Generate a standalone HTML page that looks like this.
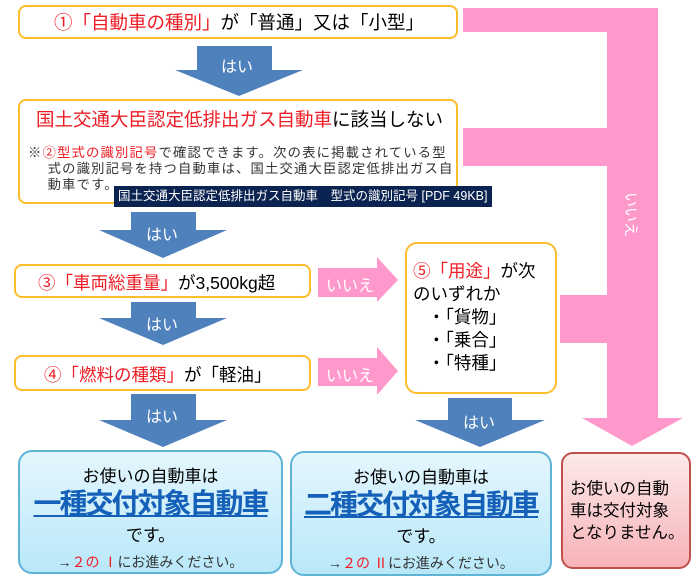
<!DOCTYPE html>
<html><head><meta charset="utf-8"><style>
body{margin:0;width:700px;height:580px;background:#fff;position:relative;overflow:hidden;font-family:"Liberation Sans","Noto Sans CJK JP",sans-serif;}
.b{position:absolute;box-sizing:border-box;border:2px solid #fbbd2a;border-radius:8px;background:#fff;}
.r{color:#ee1c25}
.t{position:absolute;white-space:nowrap}
svg{position:absolute;left:0;top:0}
.blue{position:absolute;box-sizing:border-box;border:2px solid #5fb3d6;border-radius:14px;background:linear-gradient(#e4f6fd,#b9e8f9);text-align:center}
.big{color:#1560b8;font-weight:bold;text-decoration:underline;font-size:28px;letter-spacing:-2px;line-height:34px}
</style></head><body>
<svg width="700" height="580">
<g fill="#ff99cc">
<polygon points="463,8 658,8 658,418 683,418 632,446 582,418 607,418 607,343 560,343 560,295 607,295 607,166 463,166 463,128 607,128 607,32 463,32"/>
<polygon points="318,268 377,268 377,257 398,280 377,302 377,297 318,297"/>
<polygon points="318,358 377,358 377,347 398,371 377,395 377,386 318,386"/>
</g>
<g fill="#4f81bd">
<polygon points="197,46 272,46 272,70 303,70 239,96 175,70 197,70"/>
<polygon points="131,212 196,212 196,230 227,230 163,258 99,230 131,230"/>
<polygon points="131,302 196,302 196,318 227,318 163,345 99,318 131,318"/>
<polygon points="131,394 196,394 196,420 227,420 163,447 99,420 131,420"/>
<polygon points="448,398 512,398 512,420 545,420 480,447 415,420 448,420"/>
</g>
<g fill="#fff" font-size="16" font-family="Liberation Sans,Noto Sans CJK JP,sans-serif">
<text x="221" y="72">はい</text>
<text x="146" y="240">はい</text>
<text x="146" y="330">はい</text>
<text x="146" y="422">はい</text>
<text x="463" y="428">はい</text>
<text x="326" y="291">いいえ</text>
<text x="326" y="381">いいえ</text>
<text x="626" y="192" transform="rotate(90 626 192)" font-size="15">いいえ</text>
</g>
</svg>
<div class="b" style="left:18px;top:5px;width:440px;height:34px"></div>
<div class="t" style="left:54px;top:9px;font-size:18.5px"><span class="r">①「自動車の種別」</span>が「普通」又は「小型」</div>
<div class="b" style="left:18px;top:99px;width:440px;height:105px"></div>
<div class="t" style="left:36px;top:106px;font-size:18.5px"><span class="r">国土交通大臣認定低排出ガス自動車</span>に該当しない</div>
<div class="t" style="left:28px;top:145px;font-size:13.3px;letter-spacing:1.2px;line-height:16px;color:#333">※<span class="r">②型式の識別記号</span>で確認できます。次の表に掲載されている型<br>&nbsp;&nbsp;&nbsp;&nbsp;式の識別記号を持つ自動車は、国土交通大臣認定低排出ガス自<br>&nbsp;&nbsp;&nbsp;&nbsp;動車です。</div>
<div style="position:absolute;left:114px;top:186px;width:378px;height:21px;background:#0b2350;color:#fff;font-size:12.5px;line-height:21px;padding-left:4px;box-sizing:border-box;white-space:nowrap">国土交通大臣認定低排出ガス自動車　型式の識別記号 [PDF 49KB]</div>
<div class="b" style="left:14px;top:264px;width:297px;height:34px"></div>
<div class="t" style="left:38px;top:270px;font-size:17.5px"><span class="r">③「車両総重量」</span>が3,500kg超</div>
<div class="b" style="left:14px;top:355px;width:297px;height:36px"></div>
<div class="t" style="left:44px;top:362px;font-size:17.5px"><span class="r">④「燃料の種類」</span>が「軽油」</div>
<div class="b" style="left:405px;top:242px;width:152px;height:152px;border-radius:12px"></div>
<div class="t" style="left:413px;top:260px;font-size:17.5px;line-height:23px"><span class="r">⑤「用途」</span>が次<br>のいずれか<br>&nbsp;&nbsp;&nbsp;・「貨物」<br>&nbsp;&nbsp;&nbsp;・「乗合」<br>&nbsp;&nbsp;&nbsp;・「特種」</div>
<div class="blue" style="left:18px;top:450px;width:265px;height:124px"><div style="margin-top:10px;font-size:17px">お使いの自動車は</div><div class="big">一種交付対象自動車</div><div style="font-size:17px">です。</div><div style="font-size:14px;margin-top:6px;color:#333">→<span class="r">２の Ⅰ</span>にお進みください。</div></div>
<div class="blue" style="left:290px;top:451px;width:262px;height:125px"><div style="margin-top:10px;font-size:17px">お使いの自動車は</div><div class="big">二種交付対象自動車</div><div style="font-size:17px">です。</div><div style="font-size:14px;margin-top:6px;color:#333">→<span class="r">２の Ⅱ</span>にお進みください。</div></div>
<div style="position:absolute;left:561px;top:452px;width:130px;height:117px;box-sizing:border-box;border:2px solid #c0504d;border-radius:12px;background:linear-gradient(#fde9e9,#f6b3b8);font-size:16.5px;line-height:22px;padding:24px 0 0 7px;white-space:nowrap">お使いの自動<br>車は交付対象<br>となりません。</div>
</body></html>
